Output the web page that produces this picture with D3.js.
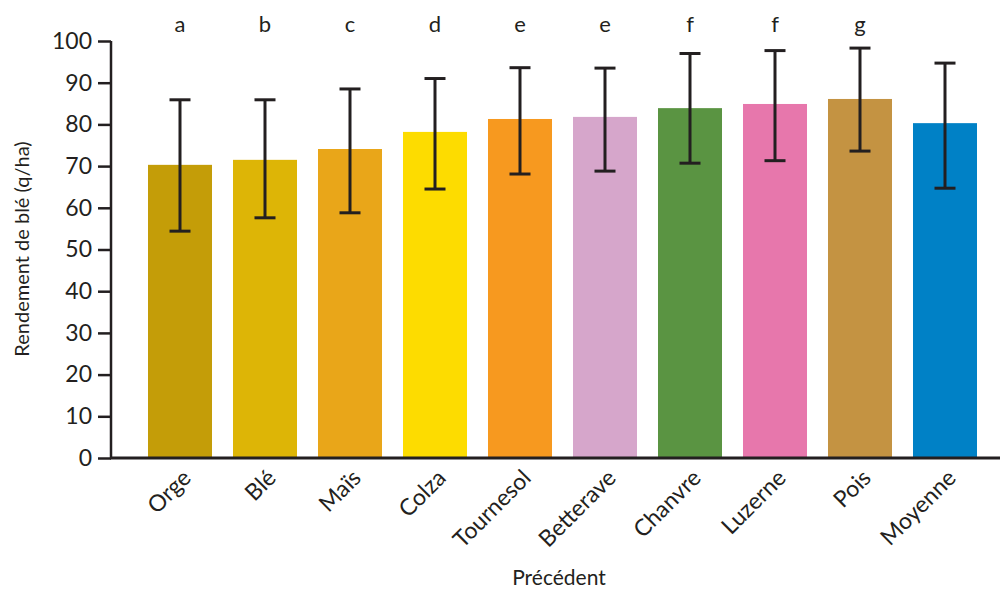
<!DOCTYPE html>
<html>
<head>
<meta charset="utf-8">
<script src="https://cdn.jsdelivr.net/npm/d3@7"></script>
<style>
  body { margin: 0; background: #fff; }
  svg text { font-family: Lato, "Open Sans", sans-serif; fill: #231f20; }
</style>
</head>
<body>
<svg id="chart" width="1000" height="592"></svg>
<script>
// Data
const categories = ['Orge', 'Blé', 'Maïs', 'Colza', 'Tournesol', 'Betterave', 'Chanvre', 'Luzerne', 'Pois', 'Moyenne'];
const yields = [70.3, 71.5, 74.1, 78.2, 81.3, 81.8, 83.9, 84.9, 86.1, 80.3];
const errLow = [54.4, 57.6, 58.8, 64.5, 68.1, 68.8, 70.7, 71.3, 73.6, 64.7];
const errHigh = [85.9, 85.9, 88.5, 91.0, 93.6, 93.5, 97.0, 97.7, 98.3, 94.7];
const groupLetters = ['a', 'b', 'c', 'd', 'e', 'e', 'f', 'f', 'g', ''];
const barColors = ['#c49d08', '#ddb506', '#e9a619', '#fddc00', '#f7991f', '#d6a6cb', '#5a9442', '#e777ac', '#c49342', '#0081c6'];
const yTicks = [0, 10, 20, 30, 40, 50, 60, 70, 80, 90, 100];

const svg = d3.select('#chart');
const ink = '#231f20';

const x = d3.scaleBand()
    .domain(categories)
    .range([137.5, 987.5])
    .paddingInner(0.247)
    .paddingOuter(0.1235);

const y = d3.scaleLinear()
    .domain([0, 100])
    .range([458, 41]);

const rows = categories.map((c, i) => ({
    name: c, value: yields[i], lo: errLow[i], hi: errHigh[i],
    letter: groupLetters[i], color: barColors[i]
}));

// Bars
svg.append('g')
    .selectAll('rect')
    .data(rows)
    .enter()
    .append('rect')
    .attr('x', d => x(d.name))
    .attr('y', d => y(d.value))
    .attr('width', x.bandwidth())
    .attr('height', d => y(0) - y(d.value))
    .attr('fill', d => d.color);

// Error bars
const capHalf = 10.5;
const err = svg.append('g')
    .attr('stroke', ink)
    .attr('stroke-width', 3);

err.selectAll('line.stem')
    .data(rows)
    .enter()
    .append('line')
    .attr('class', 'stem')
    .attr('x1', d => x(d.name) + x.bandwidth() / 2)
    .attr('x2', d => x(d.name) + x.bandwidth() / 2)
    .attr('y1', d => y(d.lo))
    .attr('y2', d => y(d.hi));

err.selectAll('line.cap-top')
    .data(rows)
    .enter()
    .append('line')
    .attr('class', 'cap-top')
    .attr('x1', d => x(d.name) + x.bandwidth() / 2 - capHalf)
    .attr('x2', d => x(d.name) + x.bandwidth() / 2 + capHalf)
    .attr('y1', d => y(d.hi))
    .attr('y2', d => y(d.hi));

err.selectAll('line.cap-bot')
    .data(rows)
    .enter()
    .append('line')
    .attr('class', 'cap-bot')
    .attr('x1', d => x(d.name) + x.bandwidth() / 2 - capHalf)
    .attr('x2', d => x(d.name) + x.bandwidth() / 2 + capHalf)
    .attr('y1', d => y(d.lo))
    .attr('y2', d => y(d.lo));

// Significance letters
svg.append('g')
    .selectAll('text')
    .data(rows)
    .enter()
    .append('text')
    .attr('x', d => x(d.name) + x.bandwidth() / 2)
    .attr('y', 32)
    .attr('text-anchor', 'middle')
    .attr('font-size', 22)
    .text(d => d.letter);

// Y axis
const yAxis = svg.append('g')
    .attr('transform', 'translate(111,0)')
    .call(d3.axisLeft(y).tickValues(yTicks).tickSize(13).tickPadding(6));
yAxis.select('.domain').attr('stroke', ink).attr('stroke-width', 2.5).attr('d', `M0,${y(100)}V${y(0)}`);
yAxis.selectAll('.tick line').attr('stroke', ink).attr('stroke-width', 2.5);
yAxis.selectAll('.tick text').attr('font-size', 23).attr('fill', ink)
    .style('font-family', 'Lato, "Open Sans", sans-serif');

// X axis (baseline runs to the right edge)
svg.append('line')
    .attr('x1', 110)
    .attr('x2', 1000)
    .attr('y1', y(0))
    .attr('y2', y(0))
    .attr('stroke', ink)
    .attr('stroke-width', 3);

svg.append('g')
    .selectAll('text')
    .data(rows)
    .enter()
    .append('text')
    .attr('transform', d => `translate(${x(d.name) + x.bandwidth() / 2 + 1},${y(0) + 10}) rotate(-45)`)
    .attr('text-anchor', 'end')
    .attr('dy', '0.7em')
    .attr('font-size', 23)
    .text(d => d.name);

// Axis titles
svg.append('text')
    .attr('x', 559)
    .attr('y', 585)
    .attr('text-anchor', 'middle')
    .attr('font-size', 21)
    .text('Précédent');

svg.append('text')
    .attr('transform', 'translate(29,249) rotate(-90)')
    .attr('text-anchor', 'middle')
    .attr('font-size', 20)
    .text('Rendement de blé (q/ha)');
</script>
</body>
</html>
